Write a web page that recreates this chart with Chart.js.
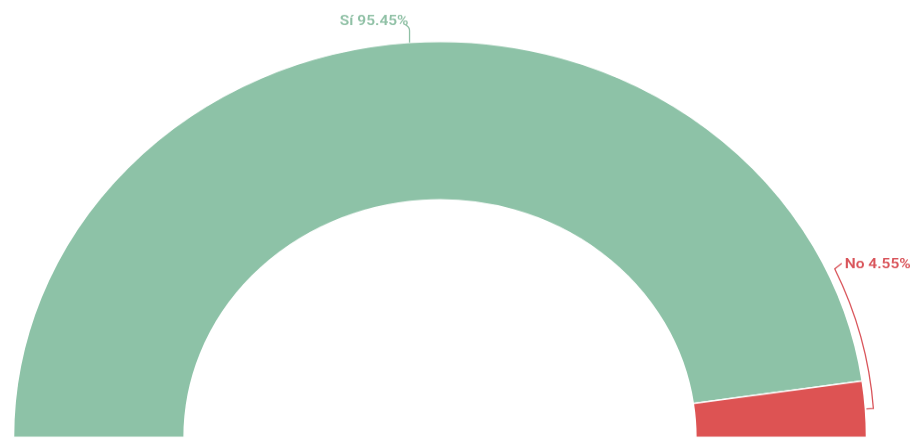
<!DOCTYPE html>
<html>
<head>
<meta charset="utf-8">
<script src="https://cdn.jsdelivr.net/npm/chart.js@4"></script>
<style>
  html, body { margin: 0; padding: 0; background: #ffffff; overflow: hidden; }
  #wrap { width: 913px; height: 438px; overflow: hidden; position: relative; }
  #c { position: absolute; left: 0; top: 0; transform-origin: 0 0; transform: scaleY(0.928); }
</style>
</head>
<body>
<div id="wrap"><canvas id="c" width="913" height="472"></canvas></div>
<script>
// ---- data ----
const categories = ['Sí', 'No'];
const percentages = [95.45, 4.55];
const percentLabels = ['95.45%', '4.55%'];

const GREEN = '#8dc2a7';
const RED = '#dd5353';
const GREEN_TEXT = '#8fc0a5';
const RED_TEXT = '#d9545a';

const sliceLabels = {
  id: 'sliceLabels',
  afterDatasetsDraw(chart) {
    const ctx = chart.ctx;
    const arcs = chart.getDatasetMeta(0).data;
    ctx.save();
    ctx.font = '600 15.5px Roboto, "Open Sans", sans-serif';
    ctx.lineWidth = 1.3;

    // Sí label (top, leader straight up)
    {
      const a = arcs[0].getProps(['x', 'y', 'startAngle', 'endAngle', 'outerRadius'], true);
      const mid = (a.startAngle + a.endAngle) / 2;
      const px = a.x + Math.cos(mid) * a.outerRadius;
      const py = a.y + Math.sin(mid) * a.outerRadius;
      ctx.strokeStyle = GREEN_TEXT;
      ctx.beginPath();
      ctx.moveTo(px, py);
      ctx.lineTo(px, py - 13);
      ctx.quadraticCurveTo(px, py - 17, px - 4, py - 19);
      ctx.stroke();
      ctx.fillStyle = GREEN_TEXT;
      ctx.textAlign = 'right';
      ctx.textBaseline = 'alphabetic';
      ctx.fillText(categories[0] + ' ' + percentLabels[0], px - 1, py - 19);
    }

    // No label (right, leader follows the arc)
    {
      const a = arcs[1].getProps(['x', 'y', 'startAngle', 'endAngle', 'outerRadius'], true);
      const mid = (a.startAngle + a.endAngle) / 2;
      const lr = a.outerRadius + 8;
      const startA = mid - 20.6 * Math.PI / 180;
      const sx = a.x + Math.cos(startA) * lr;
      const sy = a.y + Math.sin(startA) * lr;
      ctx.strokeStyle = RED_TEXT;
      ctx.beginPath();
      ctx.moveTo(sx + 7, sy - 6);
      ctx.lineTo(sx, sy);
      ctx.arc(a.x, a.y, lr, startA, mid, false);
      ctx.lineTo(a.x + Math.cos(mid) * (a.outerRadius + 1), a.y + Math.sin(mid) * (a.outerRadius + 1));
      ctx.stroke();
      ctx.fillStyle = RED_TEXT;
      ctx.textAlign = 'left';
      ctx.textBaseline = 'alphabetic';
      ctx.fillText(categories[1] + ' ' + percentLabels[1], sx + 10, sy - 1);
    }
    ctx.restore();
  }
};

new Chart(document.getElementById('c'), {
  type: 'doughnut',
  data: {
    labels: categories,
    datasets: [{
      data: percentages,
      backgroundColor: [GREEN, RED],
      borderColor: '#ffffff',
      borderWidth: 1.5
    }]
  },
  options: {
    responsive: false,
    animation: false,
    rotation: -90,
    circumference: 180,
    cutout: '60%',
    layout: { padding: { left: 12, right: 45, top: 44, bottom: 0 } },
    plugins: {
      legend: { display: false },
      tooltip: { enabled: false }
    }
  },
  plugins: [sliceLabels]
});
</script>
</body>
</html>
